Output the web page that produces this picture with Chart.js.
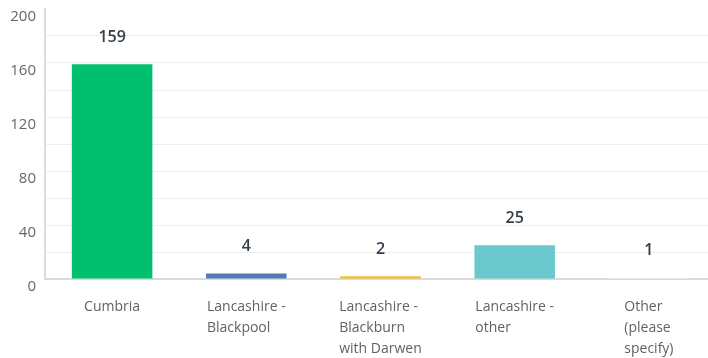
<!DOCTYPE html>
<html>
<head>
<meta charset="utf-8">
<script src="https://cdn.jsdelivr.net/npm/chart.js@4/dist/chart.umd.min.js"></script>
<style>
  html, body { margin: 0; padding: 0; background: #ffffff; overflow: hidden; }
  #wrap { width: 708px; height: 358px; overflow: hidden; position: relative; }
  canvas { display: block; }
</style>
</head>
<body>
<div id="wrap"><canvas id="chart" width="716" height="358"></canvas></div>
<script>
// Responses per area
const categories = [
  ['Cumbria'],
  ['Lancashire -', 'Blackpool'],
  ['Lancashire -', 'Blackburn', 'with Darwen'],
  ['Lancashire -', 'other'],
  ['Other', '(please', 'specify)']
];
const values = [159, 4, 2, 25, 1];
const barColors = ['#00bf6f', '#507cb6', '#f5be2e', '#6bc8cd', '#f6f6f6'];
const yTickLabels = [0, 40, 80, 120, 160, 200];

const FONT = '"Open Sans", "DejaVu Sans", sans-serif';

// Value labels above each bar
const valueLabels = {
  id: 'valueLabels',
  afterDatasetsDraw(chart) {
    const ctx = chart.ctx;
    const meta = chart.getDatasetMeta(0);
    ctx.save();
    ctx.font = '600 16px ' + FONT;
    ctx.fillStyle = '#333e48';
    ctx.textAlign = 'center';
    ctx.textBaseline = 'middle';
    meta.data.forEach((bar, i) => {
      ctx.fillText(String(chart.data.datasets[0].data[i]), bar.x, bar.y - 27);
    });
    ctx.restore();
  }
};

// Category labels: block centred under the bar, lines left-aligned
const categoryLabels = {
  id: 'categoryLabels',
  afterDraw(chart) {
    const ctx = chart.ctx;
    const xScale = chart.scales.x;
    const top = chart.chartArea.bottom;
    ctx.save();
    ctx.font = '14px ' + FONT;
    ctx.fillStyle = '#5f6266';
    ctx.textAlign = 'left';
    ctx.textBaseline = 'middle';
    categories.forEach((lines, i) => {
      const cx = xScale.getPixelForValue(i);
      const w = Math.max(...lines.map(l => ctx.measureText(l).width));
      const sx = cx - w / 2;
      lines.forEach((line, k) => {
        ctx.fillText(line, sx, top + 28 + k * 21);
      });
    });
    ctx.restore();
  }
};

new Chart(document.getElementById('chart'), {
  type: 'bar',
  data: {
    labels: categories,
    datasets: [{
      data: values,
      backgroundColor: barColors,
      borderWidth: 0,
      barPercentage: 0.6,
      categoryPercentage: 1.0
    }]
  },
  options: {
    responsive: false,
    animation: false,
    layout: { padding: { top: 9, right: 0, left: 0, bottom: 0 } },
    plugins: {
      legend: { display: false },
      tooltip: { enabled: false }
    },
    scales: {
      x: {
        grid: { display: false },
        border: { display: true, color: '#dadada', width: 2 },
        ticks: { display: false },
        afterFit(scale) { scale.height = 79; scale.paddingLeft = 0; scale.paddingRight = 0; }
      },
      y: {
        min: 0,
        max: 200,
        ticks: {
          stepSize: 20,
          padding: 9,
          labelOffset: 8,
          color: '#666666',
          font: { family: FONT, size: 15 },
          callback: (v) => yTickLabels.includes(v) ? String(v) : ''
        },
        grid: {
          drawTicks: false,
          color: (c) => (c.tick && c.tick.value === 200) ? 'rgba(0,0,0,0)' : '#efefef',
          lineWidth: 1
        },
        border: { display: true, color: '#dadada', width: 2 },
        afterFit(scale) { scale.width = 45; scale.paddingTop = 0; scale.paddingBottom = 0; }
      }
    }
  },
  plugins: [valueLabels, categoryLabels]
});
</script>
</body>
</html>
